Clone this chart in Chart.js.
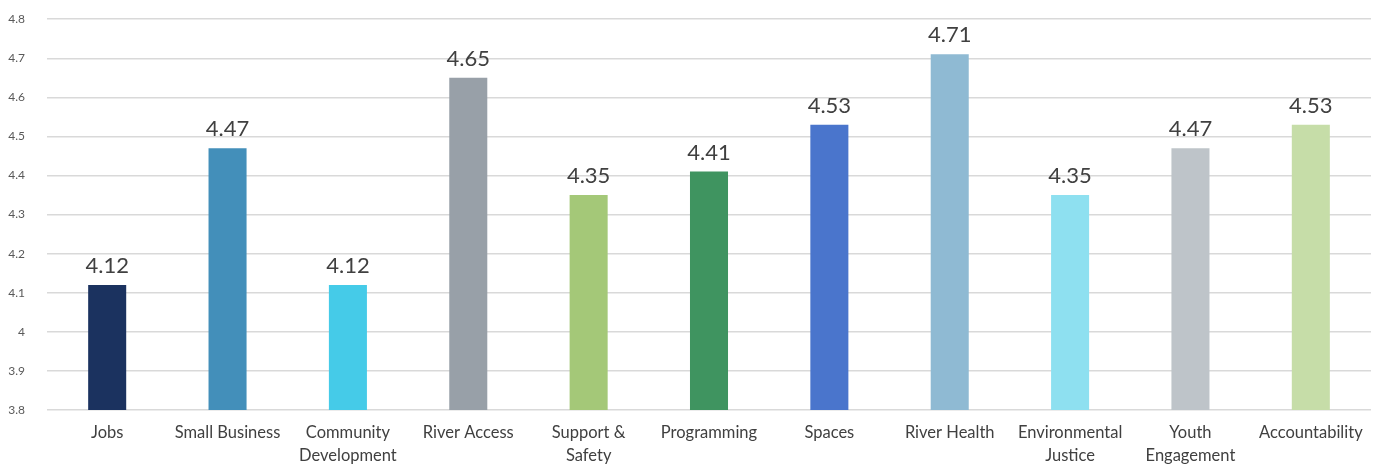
<!DOCTYPE html>
<html>
<head>
<meta charset="utf-8">
<title>Average Rating by Priority</title>
<script src="https://cdn.jsdelivr.net/npm/chart.js@4"></script>
<style>
  html, body { margin: 0; padding: 0; background: #fff; overflow: hidden; }
  #wrap { width: 1379px; height: 478px; margin-top: -10px; position: relative; }
</style>
</head>
<body>
<div id="wrap"><canvas id="ratingChart"></canvas></div>
<script>
const categories = [
  "Jobs",
  "Small Business",
  ["Community", "Development"],
  "River Access",
  ["Support &", "Safety"],
  "Programming",
  "Spaces",
  "River Health",
  ["Environmental", "Justice"],
  ["Youth", "Engagement"],
  "Accountability",
];
const ratings = [4.12, 4.47, 4.12, 4.65, 4.35, 4.41, 4.53, 4.71, 4.35, 4.47, 4.53];
const barColors = [
  "#1b325f", "#438fba", "#45cbe8", "#98a0a8", "#a4c878", "#3f9460",
  "#4a75cc", "#8fbad3", "#8ee0f0", "#bec4c9", "#c6dda8",
];
const yMin = 3.8;
const yMax = 4.8;

const FONT = "Lato, 'Open Sans', sans-serif";

// draws the rating above each bar
const valueLabels = {
  id: "valueLabels",
  afterDatasetsDraw(chart) {
    const { ctx } = chart;
    const meta = chart.getDatasetMeta(0);
    ctx.save();
    ctx.font = `22px ${FONT}`;
    ctx.fillStyle = "#404040";
    ctx.textAlign = "center";
    ctx.textBaseline = "bottom";
    meta.data.forEach((bar, i) => {
      ctx.fillText(ratings[i].toFixed(2), bar.x, bar.y - 8);
    });
    ctx.restore();
  },
};

new Chart(document.getElementById("ratingChart"), {
  type: "bar",
  data: {
    labels: categories,
    datasets: [
      {
        data: ratings,
        backgroundColor: barColors,
        borderWidth: 0,
        categoryPercentage: 1,
        barPercentage: 0.316,
      },
    ],
  },
  options: {
    responsive: true,
    maintainAspectRatio: false,
    animation: false,
    layout: { padding: { top: 10, right: 8, bottom: 0, left: 0 } },
    plugins: {
      legend: { display: false },
      tooltip: { enabled: false },
    },
    scales: {
      x: {
        afterFit(scale) {
          scale.height = 58;
        },
        grid: { display: false, drawTicks: false },
        border: { display: false },
        ticks: {
          color: "#404040",
          font: { family: FONT, size: 16.5, lineHeight: 1.4 },
          padding: 11,
          maxRotation: 0,
          autoSkip: false,
        },
      },
      y: {
        min: yMin,
        max: yMax,
        afterFit(scale) {
          scale.width = 47;
        },
        grid: { color: "#d9d9d9", lineWidth: 1.5, drawTicks: false },
        border: { display: false },
        ticks: {
          stepSize: 0.1,
          color: "#595959",
          font: { family: FONT, size: 12 },
          padding: 22,
          callback: (v) => String(Number(v.toFixed(1))),
        },
      },
    },
  },
  plugins: [valueLabels],
});
</script>
</body>
</html>
